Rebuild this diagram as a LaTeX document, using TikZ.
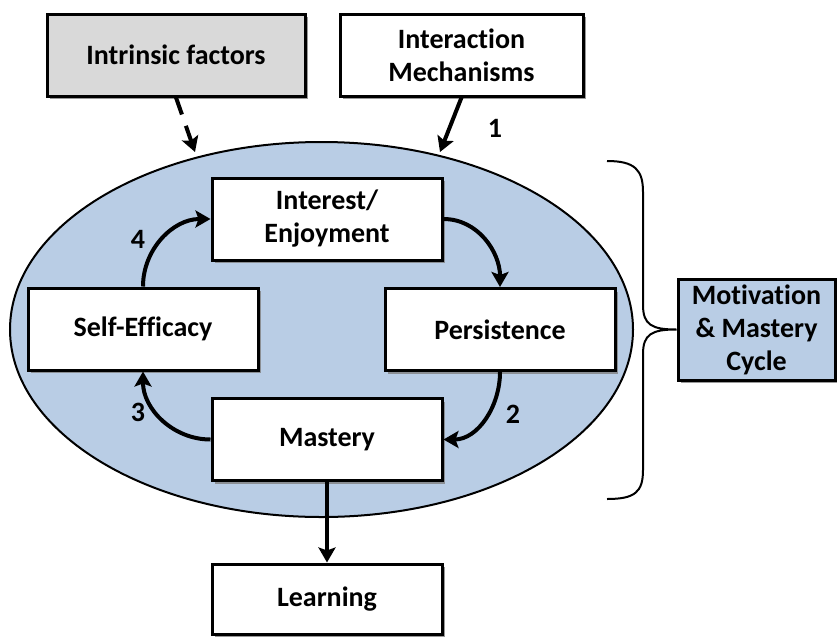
\documentclass[tikz,border=0pt]{standalone}
\usepackage{fontspec}
\setmainfont{Carlito}[Ligatures=NoCommon]
\usepackage{tikz}
\usetikzlibrary{arrows.meta}
\usetikzlibrary{shapes.geometric}
\usetikzlibrary{shadows}
\usetikzlibrary{positioning}
\definecolor{cycleblue}{HTML}{B9CDE5}
\definecolor{factorgray}{HTML}{D9D9D9}
\tikzset{stage/.style={rectangle,draw=black,line width=3pt,fill=white,minimum width=230pt,minimum height=82pt,align=center,font=\fontsize{28}{33}\selectfont\bfseries,drop shadow={shadow xshift=3pt,shadow yshift=-3pt,fill=black!50,opacity=0.8}}}
\tikzset{factor/.style={stage,fill=factorgray,minimum width=258pt}}
\tikzset{cyclebox/.style={stage,fill=cycleblue,minimum width=157pt,minimum height=101pt}}
\tikzset{flow/.style={line width=4pt,-{Stealth[length=15pt,width=17pt,inset=3pt]}}}
\tikzset{num/.style={font=\fontsize{28}{33}\selectfont\bfseries,inner sep=0pt}}

\begin{document}
\begin{tikzpicture}[x=1pt,y=-1pt]
\useasboundingbox (0,0) rectangle (837,643);
  \node[ellipse,draw=black,line width=2pt,fill=cycleblue,minimum width=623pt,minimum height=375pt,inner sep=0pt] (cyc) at (321.5,329.5) {};
  \node[factor] (intr) at (176,55) {Intrinsic factors};
  \node[stage,minimum width=243pt] (mech) at (461.5,55) {Interaction\\Mechanisms};
  \node[stage] (int) at (327,219) {Interest/\\Enjoyment};
  \node[stage] (self) at (143,329) {Self-Efficacy};
  \node[stage] (per) at (500,329.5) {Persistence};
  \node[stage] (mas) at (327,439.5) {Mastery};
  \node[stage,minimum height=70pt] (learn) at (327,599) {Learning};
  \node[cyclebox] (mot) at (756.5,329.5) {Motivation\\\& Mastery\\Cycle};
  \coordinate (intrEnd) at (195,152);
  \coordinate (mechEnd) at (440,152);
  \draw[flow,dash pattern=on 18pt off 12pt] (intr.south) -- (intrEnd);
  \draw[flow] (mech.south) -- (mechEnd);
  \draw[flow] (int.east) to[out=0,in=90] (per.north);
  \draw[flow] (per.south) to[out=-90,in=0] (mas.east);
  \draw[flow] (mas.west) to[out=180,in=-90] (self.south);
  \draw[flow] (self.north) to[out=90,in=180] (int.west);
  \draw[flow] (mas.south) -- (learn.north);
  \node[num] (n1) at (495,128) {1};
  \node[num] (n2) at (513,414) {2};
  \node[num] (n3) at (138,412) {3};
  \node[num] (n4) at (138,239) {4};
  % brace round the cycle
  \draw[line width=2pt] (607,161) .. controls (635,161) and (643,170) .. (643,192) -- (643,305) .. controls (643,325) and (652,329.5) .. (mot.west) .. controls (652,329.5) and (643,334) .. (643,354) -- (643,470) .. controls (643,492) and (635,499) .. (607,499);
\end{tikzpicture}
\end{document}
